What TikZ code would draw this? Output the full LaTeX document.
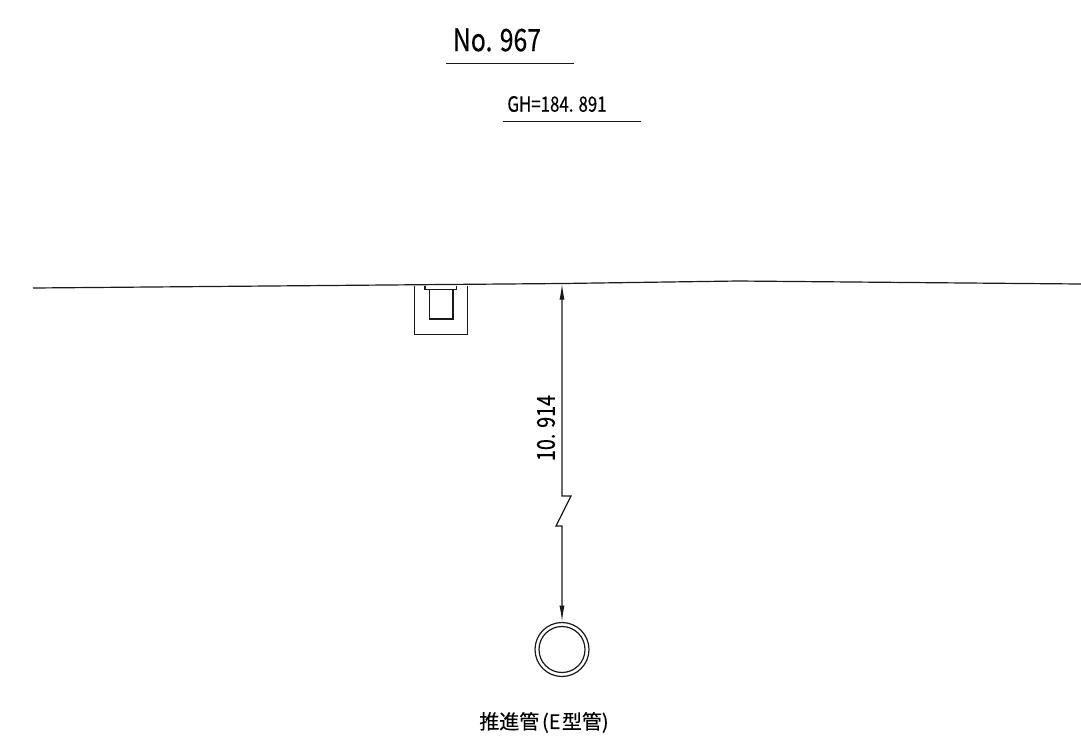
\documentclass[tikz,border=0pt]{standalone}
\usepackage{fontspec}
\newfontfamily\gothfont[FakeStretch=0.8,FakeBold=0.25]{Noto Sans CJK JP}
\newfontfamily\kanjifont[FakeBold=0.15]{Noto Sans CJK JP}
\usetikzlibrary{arrows.meta}
\tikzset{
	linea/.style={line width=.85pt, black!90},
	cota/.style={linea, {Latex[length=11.5pt,width=3.6pt]}-{Latex[length=11.5pt,width=3.6pt]}},
	rotulo/.style={inner sep=0pt, black, font=\gothfont},
	tubo/.style={circle, draw, linea, inner sep=0pt},
}
\begin{document}
\begin{tikzpicture}[x=0.25mm,y=-0.25mm]
	\useasboundingbox[fill=white] (0,0) rectangle (1081,735);

	\node[rotulo, font=\gothfont\fontsize{22}{22}\selectfont] (titulo) at (497,40) {No. 967};
	\draw[linea] (446,63.5) -- (574,63.5);
	\node[rotulo, font=\gothfont\fontsize{15}{15}\selectfont] (gh) at (557,104) {GH=184. 891};
	\draw[linea] (503,121.5) -- (641,121.5);

	% terreno
	\coordinate (t1) at (33,288);
	\coordinate (t2) at (562,283.5);
	\coordinate (t3) at (738,281);
	\coordinate (t4) at (1081,284);
	\draw[linea] (t1) -- (t2) -- (t3) -- (t4);

	% canal
	\draw[linea] (414.5,286) -- (414.5,334.5) -- (467.5,334.5) -- (467.5,285.5);
	\draw[linea] (425,286) -- (425,289.5) -- (456.5,289.5) -- (456.5,285.5);
	\draw[linea] (429.5,289.5) -- (429.5,319) -- (453,319) -- (453,289.5);

	% tubo
	\node[tubo, minimum size=54*0.25mm] (tubo) at (562,649.5) {};
	\node[tubo, minimum size=46*0.25mm] (tuboin) at (562,649.5) {};

	% cota
	\coordinate (q1) at (562,496);
	\coordinate (q2) at (571,496);
	\coordinate (q3) at (556,526);
	\coordinate (q4) at (562,526);
	\draw[cota] (t2) -- (q1) -- (q2) -- (q3) -- (q4) -- (tubo.north);
	\node[rotulo, rotate=90, font=\gothfont\fontsize{17.5}{18}\selectfont] (prof) at (546,428) {10. 914};

	\node[rotulo, font=\kanjifont\fontsize{14.2}{14}\selectfont] (nombre) at (544,722.5) {推進管\kern2pt(E\kern1pt型管)};
\end{tikzpicture}
\end{document}
